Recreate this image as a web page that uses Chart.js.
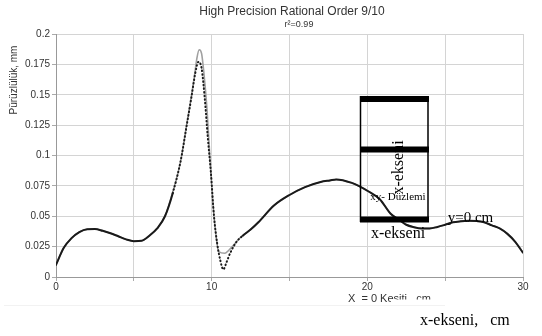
<!DOCTYPE html>
<html>
<head>
<meta charset="utf-8">
<script src="https://cdn.jsdelivr.net/npm/chart.js@4"></script>
<style>
  html, body { margin: 0; padding: 0; background: #fff; }
  canvas { display: block; }
</style>
</head>
<body>
<canvas id="chart" width="542" height="336"></canvas>
<script>
// fitted curve (grey)
const fitX = [0, 0.5, 1, 1.5, 2, 2.5, 3, 3.5, 4, 4.5, 5, 5.5, 6, 6.5, 7, 7.5, 8, 8.4, 8.7, 8.9, 9.05, 9.2, 9.35, 9.5, 9.7, 9.9, 10.1, 10.3, 10.45, 10.85, 11.1, 11.4, 11.8, 12.5, 13, 14, 15, 16, 17, 17.6, 18, 19, 19.5, 20, 20.8, 21.5, 22, 22.5, 23, 23.5, 24, 24.5, 25, 25.5, 26, 26.5, 27, 27.5, 28, 28.5, 29, 29.5, 30];
const fitY = [0.010, 0.024, 0.032, 0.037, 0.0393, 0.0395, 0.038, 0.036, 0.0335, 0.031, 0.0295, 0.0298, 0.034, 0.040, 0.050, 0.070, 0.095, 0.126, 0.149, 0.166, 0.180, 0.187, 0.184, 0.168, 0.138, 0.096, 0.058, 0.032, 0.021, 0.0195, 0.022, 0.026, 0.032, 0.039, 0.045, 0.0588, 0.0675, 0.074, 0.0782, 0.0795, 0.0803, 0.0775, 0.0746, 0.071, 0.064, 0.052, 0.0475, 0.043, 0.041, 0.040, 0.040, 0.0412, 0.043, 0.045, 0.0458, 0.0462, 0.046, 0.045, 0.0425, 0.040, 0.0355, 0.029, 0.020];

// measured profile (black, dotted where steep)
const dataX = [0, 0.5, 1, 1.5, 2, 2.5, 3, 3.5, 4, 4.5, 5, 5.5, 6, 6.5, 7, 7.5, 8, 8.4, 8.7, 8.95, 9.15, 9.35, 9.55, 9.75, 9.95, 10.15, 10.35, 10.55, 10.75, 10.95, 11.2, 11.6, 12, 12.5, 13, 14, 15, 16, 17, 17.6, 18, 19, 19.5, 20, 20.8, 21.5, 22, 22.5, 23, 23.5, 24, 24.5, 25, 25.5, 26, 26.5, 27, 27.5, 28, 28.5, 29, 29.5, 30];
const dataY = [0.010, 0.024, 0.032, 0.037, 0.0393, 0.0395, 0.038, 0.036, 0.0335, 0.031, 0.0295, 0.0298, 0.034, 0.040, 0.050, 0.069, 0.095, 0.125, 0.148, 0.168, 0.177, 0.172, 0.148, 0.115, 0.086, 0.050, 0.028, 0.014, 0.0062, 0.012, 0.020, 0.029, 0.034, 0.039, 0.045, 0.0588, 0.0675, 0.074, 0.0782, 0.0795, 0.0803, 0.0775, 0.0746, 0.071, 0.064, 0.052, 0.0475, 0.043, 0.041, 0.040, 0.040, 0.0412, 0.043, 0.045, 0.0458, 0.0462, 0.046, 0.045, 0.0425, 0.040, 0.0355, 0.029, 0.020];

const xLabelValues = [0, 10, 20, 30];

const toPoints = (xs, ys) => xs.map((x, i) => ({ x, y: ys[i] }));

const isSteep = (ctx) => ctx.p0.parsed.x >= 7.4 && ctx.p1.parsed.x <= 12.0;

// titles and the overlaid sketch on top of the chart
const overlay = {
  id: 'overlay',
  afterDraw(chart) {
    const c = chart.ctx;
    c.save();
    c.fillStyle = '#333';
    c.textAlign = 'center';
    c.textBaseline = 'middle';
    c.font = '12px "Liberation Sans", Arial, sans-serif';
    c.fillText('High Precision Rational Order 9/10', 292, 12);
    c.font = '9px "Liberation Sans", Arial, sans-serif';
    c.fillText('r\u00b2=0.99', 299, 25);

    // y axis title
    c.save();
    c.translate(14, 80);
    c.rotate(-Math.PI / 2);
    c.font = '10px "Liberation Sans", Arial, sans-serif';
    c.fillText('Pürüzlülük, mm', 0, 0);
    c.restore();

    // x axis title, bottom partly hidden
    c.textAlign = 'left';
    c.textBaseline = 'alphabetic';
    c.font = '11px "Liberation Sans", Arial, sans-serif';
    c.fillText('X  = 0 Kesiti,  cm', 348, 302);
    c.fillStyle = '#fff';
    c.fillRect(391, 299.5, 60, 8);
    c.strokeStyle = 'rgba(0,0,0,0.05)';
    c.beginPath();
    c.moveTo(4, 305.5);
    c.lineTo(445, 305.5);
    c.stroke();

    // sketch box
    c.fillStyle = '#000';
    c.strokeStyle = '#000';
    c.lineWidth = 1.5;
    c.beginPath();
    c.moveTo(360.5, 96);
    c.lineTo(360.5, 222);
    c.moveTo(428, 96);
    c.lineTo(428, 222);
    c.stroke();
    c.fillRect(360, 96, 69, 6);
    c.fillRect(360, 146.5, 69, 6);
    c.fillRect(360, 216.5, 69, 6);

    c.font = '16px "Liberation Serif", "Times New Roman", serif';
    c.textAlign = 'center';
    c.textBaseline = 'middle';
    c.save();
    c.translate(399, 167.5);
    c.rotate(-Math.PI / 2);
    c.fillText('x-ekseni', 0, 0);
    c.restore();

    c.font = '11px "Liberation Serif", "Times New Roman", serif';
    c.fillText('xy- Düzlemi', 398, 197);
    c.font = '15px "Liberation Serif", "Times New Roman", serif';
    c.fillText('y=0 cm', 470.5, 218);
    c.font = '16px "Liberation Serif", "Times New Roman", serif';
    c.fillText('x-ekseni', 398, 234);
    c.textAlign = 'left';
    c.fillText('x-ekseni,   cm', 420, 321);
    c.restore();
  },
};

new Chart(document.getElementById('chart'), {
  type: 'line',
  data: {
    datasets: [
      {
        label: 'Ölçüm',
        data: toPoints(dataX, dataY),
        borderColor: '#1a1a1a',
        borderWidth: 2,
        pointRadius: 0,
        cubicInterpolationMode: 'monotone',
        borderCapStyle: 'round',
        segment: {
          borderDash: (ctx) => (isSteep(ctx) ? [0.6, 3] : undefined),
        },
        order: 0,
      },
      {
        label: 'Fit',
        data: toPoints(fitX, fitY),
        borderColor: '#a0a0a0',
        borderWidth: 1.6,
        pointRadius: 0,
        cubicInterpolationMode: 'monotone',
        order: 1,
      },
    ],
  },
  options: {
    responsive: false,
    animation: false,
    devicePixelRatio: 1,
    layout: { padding: { left: 0, right: 19, top: 34, bottom: 0 } },
    plugins: {
      legend: { display: false },
      tooltip: { enabled: false },
    },
    scales: {
      x: {
        type: 'linear',
        min: 0,
        max: 30,
        afterFit: (s) => { s.height = 59; },
        ticks: {
          stepSize: 5,
          autoSkip: false,
          maxRotation: 0,
          padding: 0,
          color: '#333',
          font: { family: '"Liberation Sans", Arial, sans-serif', size: 10 },
          callback: (v) => (xLabelValues.includes(v) ? String(v) : ''),
        },
        grid: { color: '#d4d4d4', tickColor: '#aaa', tickLength: 4 },
        border: { color: '#999' },
      },
      y: {
        min: 0,
        max: 0.2,
        afterFit: (s) => { s.width = 56; },
        ticks: {
          stepSize: 0.025,
          padding: 2,
          color: '#333',
          font: { family: '"Liberation Sans", Arial, sans-serif', size: 10 },
          callback: (v) => String(Number(v.toFixed(3))),
        },
        grid: { color: '#d4d4d4', tickColor: '#aaa', tickLength: 4 },
        border: { color: '#999' },
      },
    },
  },
  plugins: [overlay],
});
</script>
</body>
</html>
